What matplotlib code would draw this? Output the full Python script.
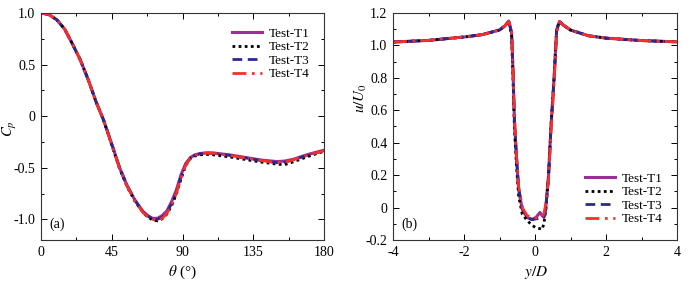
import numpy as np
import matplotlib
matplotlib.use("Agg")
import matplotlib.pyplot as plt
from matplotlib.ticker import MultipleLocator, AutoMinorLocator

plt.rcParams['font.family'] = ['Liberation Serif', 'DejaVu Serif']
plt.rcParams['mathtext.fontset'] = 'stix'
plt.rcParams['axes.unicode_minus'] = False
plt.rcParams['font.size'] = 10

# ---------- data: panel (a) pressure coefficient ----------
theta = [0, 5, 10, 15, 20, 25, 30, 35, 40, 45, 50, 55, 60, 65, 68, 71, 74, 77, 80, 83, 86,
         89, 92, 95, 98, 101, 105, 110, 120, 130, 140, 150, 155, 160, 170, 180]
cp_t1 = [1.0, 0.985, 0.935, 0.845, 0.70, 0.545, 0.355, 0.14, -0.045, -0.27, -0.50, -0.68,
         -0.82, -0.925, -0.965, -0.99, -0.99, -0.965, -0.92, -0.83, -0.72, -0.57, -0.46,
         -0.40, -0.375, -0.362, -0.355, -0.357, -0.375, -0.40, -0.425, -0.44, -0.435,
         -0.42, -0.37, -0.33]
cp_t2 = [1.0, 0.985, 0.935, 0.845, 0.70, 0.545, 0.355, 0.14, -0.05, -0.28, -0.51, -0.69,
         -0.83, -0.935, -0.98, -1.005, -1.015, -0.995, -0.95, -0.87, -0.76, -0.61, -0.48,
         -0.41, -0.385, -0.375, -0.37, -0.375, -0.395, -0.42, -0.445, -0.465, -0.47,
         -0.445, -0.39, -0.34]
cp_t3 = [1.0, 0.985, 0.935, 0.845, 0.70, 0.545, 0.355, 0.14, -0.045, -0.27, -0.50, -0.68,
         -0.82, -0.93, -0.97, -0.995, -1.0, -0.98, -0.935, -0.85, -0.74, -0.59, -0.47,
         -0.405, -0.378, -0.365, -0.358, -0.36, -0.38, -0.405, -0.43, -0.45, -0.445,
         -0.425, -0.375, -0.335]
cp_t4 = [1.0, 0.985, 0.935, 0.845, 0.70, 0.545, 0.355, 0.14, -0.05, -0.275, -0.505, -0.685,
         -0.83, -0.935, -0.975, -1.0, -1.015, -0.99, -0.945, -0.86, -0.75, -0.60, -0.475,
         -0.405, -0.378, -0.365, -0.358, -0.36, -0.38, -0.405, -0.43, -0.45, -0.445,
         -0.425, -0.375, -0.335]

# ---------- data: panel (b) streamwise velocity ----------
yd = [-4, -3, -2, -1.5, -1, -0.85, -0.74, -0.66, -0.62, -0.58, -0.52, -0.46, -0.36, -0.22,
      -0.08, 0.03, 0.14, 0.2, 0.25, 0.30, 0.38, 0.45, 0.54, 0.61, 0.69, 0.8, 1.0, 1.5, 2, 3, 4]
u_t1 = [1.021, 1.031, 1.052, 1.066, 1.095, 1.12, 1.15, 1.08, 0.85, 0.54, 0.30, 0.11, -0.01,
        -0.062, -0.073, -0.06, -0.03, -0.05, -0.06, -0.011, 0.195, 0.50, 0.81, 1.097, 1.148,
        1.125, 1.095, 1.06, 1.045, 1.03, 1.022]
u_t2 = [1.021, 1.031, 1.052, 1.066, 1.095, 1.12, 1.15, 1.06, 0.80, 0.49, 0.25, 0.07, -0.04,
        -0.08, -0.11, -0.125, -0.13, -0.135, -0.10, -0.02, 0.19, 0.50, 0.81, 1.10, 1.148,
        1.125, 1.095, 1.06, 1.045, 1.03, 1.022]
u_t3 = [1.021, 1.031, 1.052, 1.066, 1.095, 1.12, 1.15, 1.08, 0.85, 0.55, 0.31, 0.12, -0.005,
        -0.06, -0.075, -0.07, -0.065, -0.065, -0.06, -0.015, 0.185, 0.49, 0.80, 1.09, 1.148,
        1.125, 1.095, 1.06, 1.045, 1.03, 1.022]
u_t4 = [1.021, 1.031, 1.052, 1.066, 1.095, 1.12, 1.15, 1.09, 0.86, 0.56, 0.32, 0.13, 0.0,
        -0.05, -0.06, -0.065, -0.06, -0.055, -0.04, 0.02, 0.17, 0.46, 0.78, 1.08, 1.148,
        1.125, 1.095, 1.06, 1.045, 1.03, 1.022]

labels = ['Test-T1', 'Test-T2', 'Test-T3', 'Test-T4']
colors = ['#9a2f9a', '#000000', '#2b2a8c', '#f4302a']
styles = [dict(ls='-', lw=2.2), dict(ls=(0, (1, 1.2)), lw=2.0),
          dict(ls=(0, (3.5, 2)), lw=2.0), dict(ls=(0, (5, 2, 1, 2)), lw=2.0)]

fig = plt.figure(figsize=(6.92, 2.89), dpi=100)
ax1 = fig.add_axes([41/692, 1-240/289, 283/692, 227/289])
ax2 = fig.add_axes([393/692, 1-240/289, 284/692, 227/289])

for ys, lab, c, st in zip([cp_t1, cp_t2, cp_t3, cp_t4], labels, colors, styles):
    ax1.plot(theta, ys, color=c, label=lab, **st)
for ys, lab, c, st in zip([u_t1, u_t2, u_t3, u_t4], labels, colors, styles):
    ax2.plot(yd, ys, color=c, label=lab, **st)

ax1.set_xlim(0, 180)
ax1.set_ylim(-1.2, 1.0)
ax1.xaxis.set_major_locator(MultipleLocator(45))
ax1.xaxis.set_minor_locator(AutoMinorLocator(2))
ax1.set_yticks([-1.0, -0.5, 0, 0.5, 1.0])
ax1.set_yticklabels(['-1.0', '-0.5', '0', '0.5', '1.0'])
ax1.yaxis.set_minor_locator(AutoMinorLocator(2))
ax1.set_xlabel(r'$\theta$ (°)', fontsize=11)
ax1.xaxis.set_label_coords(0.5, -0.105)
ax1.set_ylabel(r'$C_p$', fontsize=10.5)
ax1.yaxis.set_label_coords(-0.078, 0.49)
ax1.text(0.03, 0.04, '(a)', transform=ax1.transAxes, ha='left', va='bottom')

ax2.set_xlim(-4, 4)
ax2.set_ylim(-0.2, 1.2)
ax2.xaxis.set_major_locator(MultipleLocator(2))
ax2.xaxis.set_minor_locator(AutoMinorLocator(2))
ax2.set_yticks([-0.2, 0, 0.2, 0.4, 0.6, 0.8, 1.0, 1.2])
ax2.set_yticklabels(['-0.2', '0', '0.2', '0.4', '0.6', '0.8', '1.0', '1.2'])
ax2.yaxis.set_minor_locator(AutoMinorLocator(2))
ax2.set_xlabel(r'$y/D$', fontsize=11)
ax2.xaxis.set_label_coords(0.503, -0.105)
ax2.set_ylabel(r'$u/U_0$', fontsize=11)
ax2.yaxis.set_label_coords(-0.085, 0.625)
ax2.text(0.03, 0.04, '(b)', transform=ax2.transAxes, ha='left', va='bottom')

for ax in (ax1, ax2):
    ax.tick_params(which='both', direction='in', top=True, right=True, labelsize=10, pad=4)
    ax.tick_params(which='major', length=4, width=0.7)
    ax.tick_params(which='minor', length=2, width=0.7)
    for s in ax.spines.values():
        s.set_linewidth(0.8)
        s.set_color('#333333')

ax1.legend(loc='upper right', frameon=False, handlelength=2.3, handletextpad=0.5,
           labelspacing=0.1, borderaxespad=0.7, fontsize=9.5)
ax2.legend(loc='lower right', frameon=False, handlelength=2.3, handletextpad=0.5,
           labelspacing=0.1, borderaxespad=0.7, fontsize=9.5)

fig.savefig('out.png', dpi=100)
